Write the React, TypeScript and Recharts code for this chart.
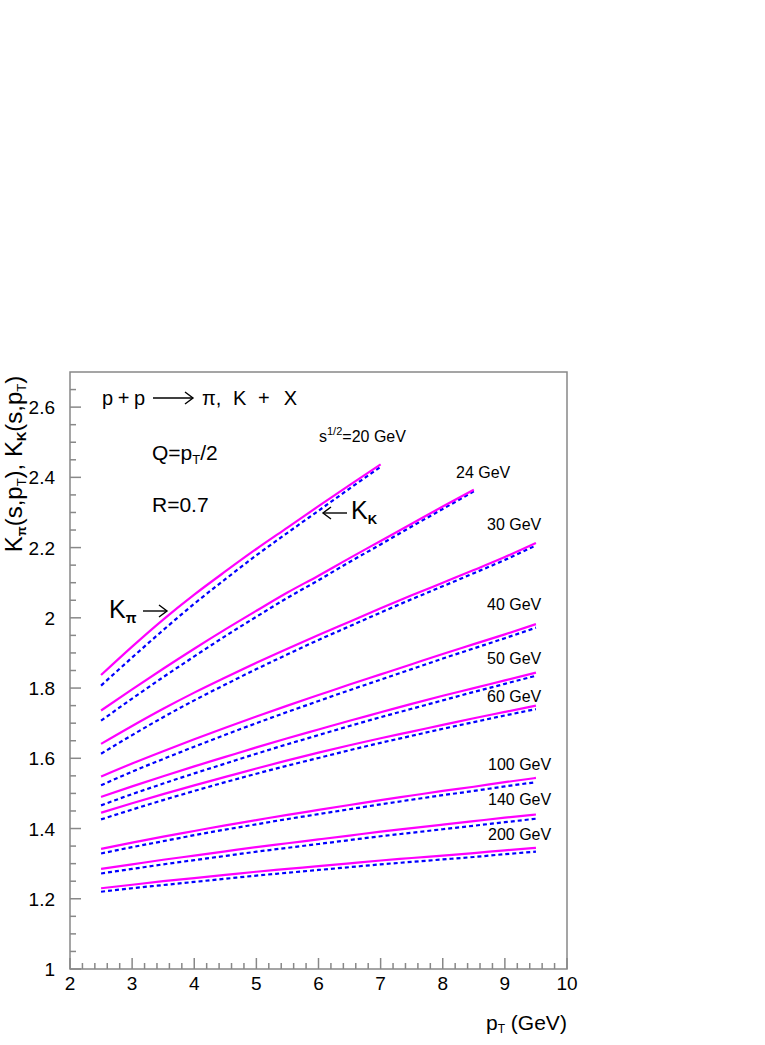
import React from 'react';
import { LineChart, Line, XAxis, YAxis, ReferenceArea } from 'recharts';

// ─── Data ─────────────────────────────────────────────────────────────────────

const PT = [2.5, 3, 3.5, 4, 4.5, 5, 5.5, 6, 6.5, 7, 7.5, 8, 8.5, 9, 9.5];

const ENERGIES = ['20', '24', '30', '40', '50', '60', '100', '140', '200'];

// K_pi (solid magenta) at the PT points above
const K_PI_20 = [1.837, 1.918, 1.995, 2.066, 2.132, 2.196, 2.257, 2.318, 2.378, 2.437];
const K_PI_24 = [1.736, 1.796, 1.855, 1.912, 1.967, 2.02, 2.072, 2.12, 2.17, 2.219, 2.268, 2.317, 2.365];
const K_PI_30 = [1.641, 1.692, 1.741, 1.787, 1.83, 1.872, 1.912, 1.951, 1.989, 2.027, 2.064, 2.1, 2.136, 2.173, 2.213];
const K_PI_40 = [1.548, 1.585, 1.62, 1.654, 1.687, 1.719, 1.75, 1.78, 1.81, 1.839, 1.868, 1.897, 1.925, 1.953, 1.982];
const K_PI_50 = [1.49, 1.52, 1.549, 1.577, 1.604, 1.631, 1.657, 1.682, 1.707, 1.731, 1.755, 1.778, 1.8, 1.822, 1.844];
const K_PI_60 = [1.445, 1.472, 1.498, 1.523, 1.547, 1.571, 1.594, 1.616, 1.637, 1.657, 1.676, 1.695, 1.714, 1.732, 1.75];
const K_PI_100 = [1.342, 1.36, 1.377, 1.393, 1.409, 1.424, 1.439, 1.453, 1.467, 1.481, 1.494, 1.507, 1.519, 1.532, 1.544];
const K_PI_140 = [1.285, 1.298, 1.311, 1.323, 1.335, 1.347, 1.358, 1.369, 1.38, 1.391, 1.401, 1.411, 1.421, 1.431, 1.44];
const K_PI_200 = [1.23, 1.24, 1.25, 1.259, 1.268, 1.277, 1.285, 1.293, 1.301, 1.309, 1.316, 1.323, 1.33, 1.338, 1.345];

// K_K (dashed blue)
const K_K_20 = [1.807, 1.887, 1.965, 2.04, 2.11, 2.178, 2.242, 2.305, 2.368, 2.43];
const K_K_24 = [1.707, 1.77, 1.831, 1.89, 1.948, 2.003, 2.057, 2.107, 2.159, 2.209, 2.26, 2.31, 2.36];
const K_K_30 = [1.613, 1.666, 1.717, 1.765, 1.81, 1.854, 1.896, 1.937, 1.976, 2.015, 2.053, 2.09, 2.127, 2.165, 2.206];
const K_K_40 = [1.523, 1.562, 1.598, 1.633, 1.667, 1.7, 1.732, 1.763, 1.794, 1.824, 1.854, 1.884, 1.913, 1.942, 1.972];
const K_K_50 = [1.466, 1.498, 1.528, 1.557, 1.585, 1.613, 1.64, 1.666, 1.692, 1.717, 1.741, 1.765, 1.789, 1.812, 1.835];
const K_K_60 = [1.426, 1.454, 1.481, 1.507, 1.532, 1.556, 1.579, 1.601, 1.623, 1.644, 1.664, 1.684, 1.703, 1.722, 1.74];
const K_K_100 = [1.329, 1.347, 1.364, 1.381, 1.397, 1.412, 1.427, 1.441, 1.455, 1.469, 1.482, 1.495, 1.507, 1.52, 1.532];
const K_K_140 = [1.272, 1.285, 1.298, 1.31, 1.322, 1.334, 1.345, 1.356, 1.367, 1.378, 1.388, 1.398, 1.408, 1.418, 1.428];
const K_K_200 = [1.22, 1.23, 1.239, 1.248, 1.257, 1.266, 1.274, 1.282, 1.29, 1.298, 1.305, 1.312, 1.319, 1.327, 1.334];

const K_PI = [K_PI_20, K_PI_24, K_PI_30, K_PI_40, K_PI_50, K_PI_60, K_PI_100, K_PI_140, K_PI_200];
const K_K = [K_K_20, K_K_24, K_K_30, K_K_40, K_K_50, K_K_60, K_K_100, K_K_140, K_K_200];

// major (labelled) ticks and the full tick sets including minor ones
const X_MAJOR = [2, 3, 4, 5, 6, 7, 8, 9, 10];
const X_TICKS = [
  2, 2.2, 2.4, 2.6, 2.8, 3, 3.2, 3.4, 3.6, 3.8, 4, 4.2, 4.4, 4.6, 4.8, 5, 5.2, 5.4, 5.6, 5.8,
  6, 6.2, 6.4, 6.6, 6.8, 7, 7.2, 7.4, 7.6, 7.8, 8, 8.2, 8.4, 8.6, 8.8, 9, 9.2, 9.4, 9.6, 9.8, 10,
];
const Y_MAJOR = [1, 1.2, 1.4, 1.6, 1.8, 2, 2.2, 2.4, 2.6];
const Y_TICKS = [
  1, 1.05, 1.1, 1.15, 1.2, 1.25, 1.3, 1.35, 1.4, 1.45, 1.5, 1.55, 1.6, 1.65, 1.7, 1.75, 1.8,
  1.85, 1.9, 1.95, 2, 2.05, 2.1, 2.15, 2.2, 2.25, 2.3, 2.35, 2.4, 2.45, 2.5, 2.55, 2.6, 2.65,
];

const rows = PT.map((pt, i) => {
  const row: Record<string, number | null> = { pt };
  ENERGIES.forEach((e, j) => {
    row[`pi${e}`] = K_PI[j][i] ?? null;
    row[`k${e}`] = K_K[j][i] ?? null;
  });
  return row;
});

// ─── Styling ──────────────────────────────────────────────────────────────────

const FONT = "'Liberation Sans', Arial, sans-serif";
const FRAME = '#888888';
const MAGENTA = '#ff00ff';
const BLUE = '#0000ff';

const W = 765;
const H = 1045;

// energy labels on the right: [text, x, baseline]
const ENERGY_LABELS: [string, number, number][] = [
  ['24 GeV', 456, 478],
  ['30 GeV', 487, 530],
  ['40 GeV', 487, 610],
  ['50 GeV', 487, 664],
  ['60 GeV', 487, 702],
  ['100 GeV', 488, 770],
  ['140 GeV', 488, 805],
  ['200 GeV', 488, 840],
];

// ─── Inward ticks (PAW style) ─────────────────────────────────────────────────

interface TickProps {
  x?: number;
  y?: number;
  payload?: { value: number };
}

const XTick: React.FC<TickProps> = ({ x = 0, y = 0, payload }) => {
  const v = payload?.value ?? 0;
  const major = X_MAJOR.includes(v);
  return (
    <g>
      <line x1={x} x2={x} y1={y} y2={y - (major ? 11 : 6)} stroke={FRAME} strokeWidth={1.5} />
      {major && (
        <text x={x} y={y + 21} textAnchor="middle" fontSize={19} fontFamily={FONT} fill="#000">
          {v}
        </text>
      )}
    </g>
  );
};

const YTick: React.FC<TickProps> = ({ x = 0, y = 0, payload }) => {
  const v = payload?.value ?? 0;
  const major = Y_MAJOR.includes(v);
  return (
    <g>
      <line x1={x} x2={x + (major ? 11 : 6)} y1={y} y2={y} stroke={FRAME} strokeWidth={1.5} />
      {major && (
        <text x={x - 15} y={y + 7} textAnchor="end" fontSize={19} fontFamily={FONT} fill="#000">
          {v}
        </text>
      )}
    </g>
  );
};

// simple open-headed arrow used in the annotations
const Arrow: React.FC<{ x1: number; x2: number; y: number }> = ({ x1, x2, y }) => {
  const dir = x2 > x1 ? 1 : -1;
  return (
    <g stroke="#000" strokeWidth={1.4} fill="none">
      <line x1={x1} x2={x2} y1={y} y2={y} />
      <polyline points={`${x2 - dir * 8},${y - 6} ${x2},${y} ${x2 - dir * 8},${y + 6}`} />
    </g>
  );
};

const Annotations: React.FC = () => (
  <svg
    width={W}
    height={H}
    style={{ position: 'absolute', left: 0, top: 0, pointerEvents: 'none' }}
    fontFamily={FONT}
    fill="#000"
  >
    {/* title */}
    <text x={102} y={405} fontSize={20} textLength={43} lengthAdjust="spacing">p+p</text>
    <Arrow x1={153} x2={193} y={398} />
    <text x={202} y={405} fontSize={20}>π,</text>
    <text x={233} y={405} fontSize={20}>K</text>
    <text x={258} y={405} fontSize={20} textLength={39} lengthAdjust="spacing">+X</text>

    <text x={152} y={460} fontSize={21}>
      Q=p<tspan fontSize={13} dy={4}>T</tspan>
      <tspan dy={-4}>/2</tspan>
    </text>
    <text x={152} y={512} fontSize={21}>R=0.7</text>

    {/* sqrt(s) labels */}
    <text x={319} y={442} fontSize={16}>
      s<tspan fontSize={11} dy={-7}>1/2</tspan>
      <tspan dy={7}>=20 GeV</tspan>
    </text>
    {ENERGY_LABELS.map(([t, x, y]) => (
      <text key={t} x={x} y={y} fontSize={16}>{t}</text>
    ))}

    {/* K_pi arrow */}
    <text x={109} y={618} fontSize={25}>
      K<tspan fontSize={14} fontWeight="bold" dy={5}>π</tspan>
    </text>
    <Arrow x1={143} x2={167} y={611} />

    {/* K_K arrow */}
    <Arrow x1={347} x2={323} y={513} />
    <text x={351} y={519} fontSize={25}>
      K<tspan fontSize={13} fontWeight="bold" dy={5}>K</tspan>
    </text>

    {/* axis titles */}
    <text transform="translate(22,464) rotate(-90)" textAnchor="middle" fontSize={24}>
      K<tspan fontSize={13} fontWeight="bold" dy={4}>π</tspan>
      <tspan dy={-4}>(s,p</tspan>
      <tspan fontSize={13} dy={4}>T</tspan>
      <tspan dy={-4}>), K</tspan>
      <tspan fontSize={13} fontWeight="bold" dy={4}>K</tspan>
      <tspan dy={-4}>(s,p</tspan>
      <tspan fontSize={13} dy={4}>T</tspan>
      <tspan dy={-4}>)</tspan>
    </text>
    <text x={486} y={1030} fontSize={21}>
      p<tspan fontSize={12} dy={3}>T</tspan>
      <tspan dy={-3}> (GeV)</tspan>
    </text>
  </svg>
);

// ─── Chart ────────────────────────────────────────────────────────────────────

const App: React.FC = () => (
  <div style={{ position: 'absolute', left: 0, top: 0, width: W, height: H, background: '#fff' }}>
    <LineChart width={W} height={H} data={rows} margin={{ top: 372, right: 198, bottom: 0, left: 0 }}>
      <XAxis
        dataKey="pt"
        type="number"
        domain={[2, 10]}
        ticks={X_TICKS}
        interval={0}
        height={76}
        axisLine={false}
        tickLine={false}
        tickSize={0}
        tickMargin={0}
        tick={<XTick />}
      />
      <YAxis
        type="number"
        domain={[1, 2.7]}
        ticks={Y_TICKS}
        interval={0}
        width={70}
        axisLine={false}
        tickLine={false}
        tickSize={0}
        tickMargin={0}
        tick={<YTick />}
      />
      <ReferenceArea
        x1={2}
        x2={10}
        y1={1}
        y2={2.7}
        fill="none"
        fillOpacity={0}
        stroke={FRAME}
        strokeWidth={1.5}
        ifOverflow="visible"
      />

      {ENERGIES.map((e) => (
        <Line
          key={`k${e}`}
          dataKey={`k${e}`}
          type="monotone"
          stroke={BLUE}
          strokeWidth={2.2}
          strokeDasharray="4 3"
          dot={false}
          connectNulls={false}
          isAnimationActive={false}
        />
      ))}
      {ENERGIES.map((e) => (
        <Line
          key={`pi${e}`}
          dataKey={`pi${e}`}
          type="monotone"
          stroke={MAGENTA}
          strokeWidth={2.2}
          dot={false}
          connectNulls={false}
          isAnimationActive={false}
        />
      ))}
    </LineChart>
    <Annotations />
  </div>
);

export default App;
